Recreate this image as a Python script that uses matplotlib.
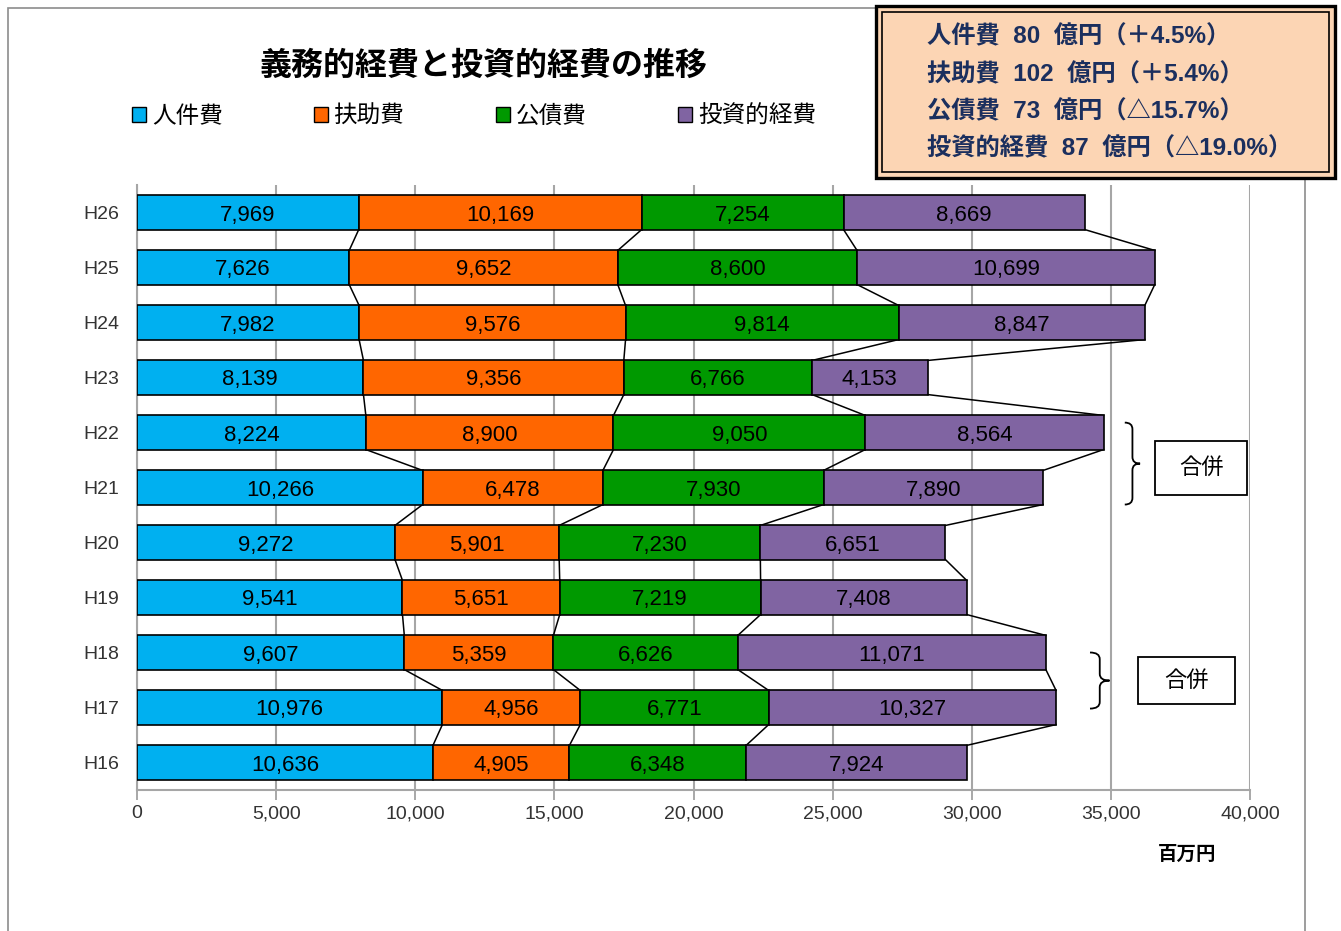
import matplotlib
matplotlib.use('Agg')
import matplotlib.pyplot as plt
from matplotlib.patches import Rectangle, PathPatch, Patch
from matplotlib.path import Path
import numpy as np

plt.rcParams['font.family'] = ['Liberation Sans', 'Noto Sans CJK JP']

# data (百万円), bottom row first
years = ['H16', 'H17', 'H18', 'H19', 'H20', 'H21', 'H22', 'H23', 'H24', 'H25', 'H26']
personnel = [10636, 10976, 9607, 9541, 9272, 10266, 8224, 8139, 7982, 7626, 7969]
assistance = [4905, 4956, 5359, 5651, 5901, 6478, 8900, 9356, 9576, 9652, 10169]
debt = [6348, 6771, 6626, 7219, 7230, 7930, 9050, 6766, 9814, 8600, 7254]
investment = [7924, 10327, 11071, 7408, 6651, 7890, 8564, 4153, 8847, 10699, 8669]

series_names = ['人件費', '扶助費', '公債費', '投資的経費']
colors = ['#00B0F0', '#FF6600', '#009900', '#8064A2']

summary_lines = ['人件費  80  億円（＋4.5%）',
                 '扶助費  102  億円（＋5.4%）',
                 '公債費  73  億円（△15.7%）',
                 '投資的経費  87  億円（△19.0%）']

merger_groups = [('H21', 'H22'), ('H17', 'H18')]

W, H = 1341, 931
fig = plt.figure(figsize=(W / 100, H / 100), dpi=100)
ax = fig.add_axes([137 / W, 1 - 790 / H, 1113 / W, 605 / H])

y = np.arange(len(years))
bh = 0.62
data = [personnel, assistance, debt, investment]
left = np.zeros(len(years))
rights = []
for vals, c in zip(data, colors):
    vals = np.array(vals)
    ax.barh(y, vals, left=left, height=bh, color=c, edgecolor='black',
            linewidth=1.2, zorder=3)
    for yi, l, v in zip(y, left, vals):
        ax.text(l + v / 2, yi, f'{v:,}', ha='center', va='center_baseline',
                fontsize=16, color='black', zorder=5)
    left = left + vals
    rights.append(left.copy())

# series lines between adjacent bars
for r in rights:
    for i in range(1, len(years)):
        ax.plot([r[i], r[i - 1]], [y[i] - bh / 2, y[i - 1] + bh / 2],
                color='black', lw=1.1, zorder=2)

ax.set_xlim(0, 40000)
ax.set_ylim(-0.5, len(years) - 0.5)
ax.set_xticks(np.arange(0, 40001, 5000))
ax.set_xticklabels([f'{v:,}' for v in range(0, 40001, 5000)], fontsize=14,
                   color='#333333')
ax.set_yticks(y)
ax.set_yticklabels(years, fontsize=14, color='#333333')
ax.tick_params(axis='y', length=0, pad=13)
ax.tick_params(axis='x', length=7, color='#999999', width=1.2, pad=4)
ax.grid(axis='x', color='#A6A6A6', lw=1.5, zorder=0)
for s in ['top', 'right']:
    ax.spines[s].set_visible(False)
for s in ['left', 'bottom']:
    ax.spines[s].set_color('#A6A6A6')
    ax.spines[s].set_linewidth(1.5)


def brace(ax, x, ytop, ybot, w):
    ym = (ytop + ybot) / 2
    r = 0.12
    xm = x + w / 2
    verts = [(x, ytop), (xm, ytop), (xm, ytop - r),
             (xm, ym + r), (xm, ym), (x + w, ym),
             (xm, ym), (xm, ym - r),
             (xm, ybot + r), (xm, ybot), (x, ybot)]
    codes = [Path.MOVETO, Path.CURVE3, Path.CURVE3,
             Path.LINETO, Path.CURVE3, Path.CURVE3,
             Path.CURVE3, Path.CURVE3,
             Path.LINETO, Path.CURVE3, Path.CURVE3]
    ax.add_patch(PathPatch(Path(verts, codes), fill=False, lw=1.3,
                           edgecolor='black', clip_on=False, zorder=4))


brace_x = [35500, 34250]
brace_span = [(0.18, -0.31, 550), (0.0, -0.02, 700)]
box_x = [(36590, 39890), (35980, 39460)]
box_y = [(4.87, 5.84), (1.06, 1.91)]
for (lo, hi), bx, (t, b, w), (x0, x1), (y0, y1) in zip(
        merger_groups, brace_x, brace_span, box_x, box_y):
    ilo, ihi = years.index(lo), years.index(hi)
    brace(ax, bx, ihi + t, ilo + b, w)
    ax.add_patch(Rectangle((x0, y0), x1 - x0, y1 - y0, fill=True,
                           facecolor='white', edgecolor='black', lw=1.3,
                           clip_on=False, zorder=4))
    ax.text((x0 + x1) / 2, (y0 + y1) / 2, '合併', ha='center', va='center',
            fontsize=16, zorder=5)

# chart border
fig.add_artist(Rectangle((8 / W, -0.02), (1305 - 8) / W, 1 - 8 / H + 0.02,
                         transform=fig.transFigure, fill=False,
                         edgecolor='#8C8C8C', lw=1.2))

# title and legend
fig.text(483 / W, 1 - 67 / H, '義務的経費と投資的経費の推移', ha='center',
         va='center', fontsize=23, fontweight='bold')
handles = [Patch(facecolor=c, edgecolor='black', lw=1.0) for c in colors]
fig.legend(handles, series_names, loc='center left', ncol=4,
           bbox_to_anchor=(111 / W, 1 - 117 / H), frameon=False,
           fontsize=17, handlelength=0.6, handleheight=0.6,
           handletextpad=0.25, columnspacing=3.85)

fig.text(1187 / W, 1 - 855 / H, '百万円', ha='center', va='center',
         fontsize=14, fontweight='bold')

# summary box
fig.add_artist(Rectangle((876 / W, 1 - 178 / H), 459 / W, 172 / H,
                         transform=fig.transFigure, facecolor='#FCD5B4',
                         edgecolor='black', lw=2.4, zorder=10))
fig.add_artist(Rectangle((882 / W, 1 - 172 / H), 447 / W, 160 / H,
                         transform=fig.transFigure, fill=False,
                         edgecolor='black', lw=1.2, zorder=11))
for k, line in enumerate(summary_lines):
    fig.text(927 / W, 1 - (37 + 37.3 * k) / H, line, ha='left', va='center',
             fontsize=17.5, fontweight='bold', color='#1B2F5E', zorder=12)

fig.savefig('out.png', dpi=100)
